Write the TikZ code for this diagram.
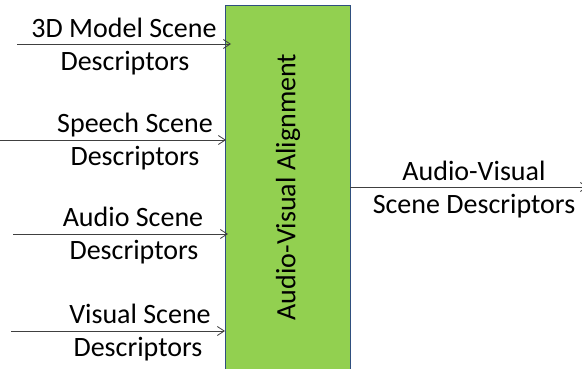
\documentclass[tikz,border=0pt]{standalone}
\usepackage{fontspec}
\setmainfont{Carlito}
\usetikzlibrary{arrows.meta}
\definecolor{boxgreen}{HTML}{92D050}
\definecolor{boxedge}{HTML}{2F4F7F}
\definecolor{arrowgray}{HTML}{404040}
\tikzset{
  lbl/.style={font=\fontsize{28}{34}\selectfont, inner sep=0pt, anchor=base},
  conn/.style={draw=arrowgray, line width=0.8pt, -{Straight Barb[length=7pt,width=9pt]}},
}
\begin{document}
\begin{tikzpicture}[x=1pt,y=-1pt]
\useasboundingbox (0,0) rectangle (582,369);
\node[draw=boxedge, line width=1.2pt, fill=boxgreen, minimum width=125pt, minimum height=380pt, inner sep=0pt, anchor=north west] (box) at (225,5) {};
\node[lbl, rotate=90, anchor=center] (boxlbl) at (288,187) {Audio-Visual Alignment};
% inputs
\coordinate (s1) at (17,44);  \coordinate (t1) at (231,44);
\coordinate (s2) at (0,140);  \coordinate (t2) at (226,140);
\coordinate (s3) at (13,234); \coordinate (t3) at (228,234);
\coordinate (s4) at (11,331); \coordinate (t4) at (225,331);
\draw[conn] (s1) -- (t1);
\draw[conn] (s2) -- (t2);
\draw[conn] (s3) -- (t3);
\draw[conn] (s4) -- (t4);
\node[lbl] (a1) at (124,38) {3D Model Scene};
\node[lbl] (b1) at (125,71) {Descriptors};
\node[lbl] (a2) at (135,132) {Speech Scene};
\node[lbl] (b2) at (135,165) {Descriptors};
\node[lbl] (a3) at (133,226) {Audio Scene};
\node[lbl] (b3) at (134,259) {Descriptors};
\node[lbl] (a4) at (140,323) {Visual Scene};
\node[lbl] (b4) at (138,356) {Descriptors};
% output
\coordinate (o1) at (350,187);
\coordinate (o2) at (588,187);
\draw[conn] (o1) -- (o2);
\node[lbl] (ao) at (474,180) {Audio-Visual};
\node[lbl] (bo) at (474,213) {Scene Descriptors};
\end{tikzpicture}
\end{document}
